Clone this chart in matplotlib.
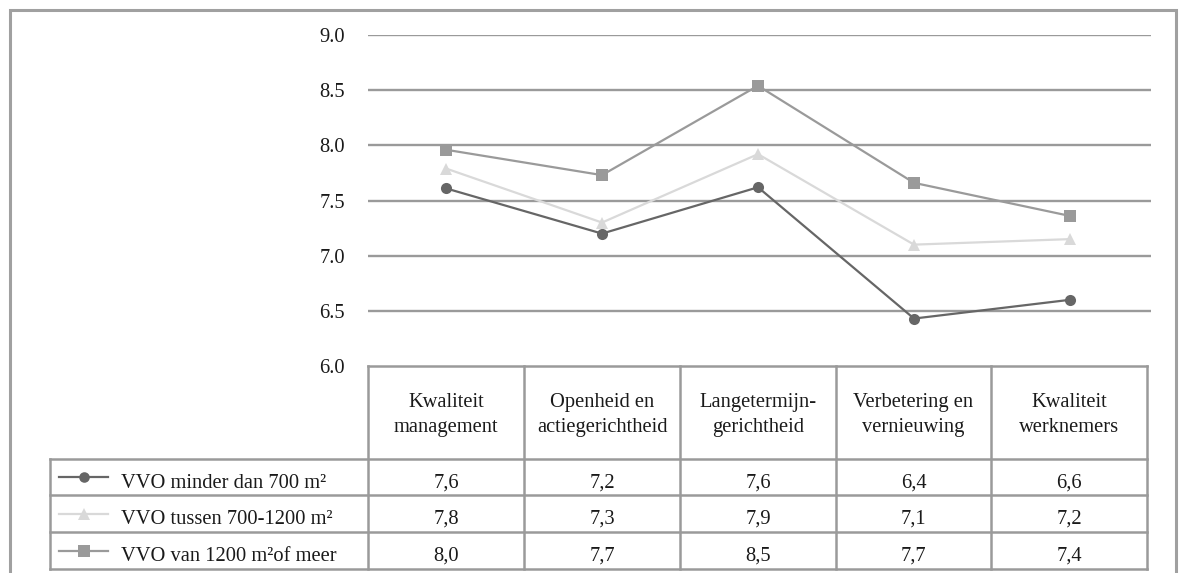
import numpy as np
import matplotlib.pyplot as plt
from matplotlib.lines import Line2D

plt.rcParams["font.family"] = ["Liberation Serif", "DejaVu Serif"]

# data
categories = ["Kwaliteit\nmanagement", "Openheid en\nactiegerichtheid", "Langetermijn-\ngerichtheid",
              "Verbetering en\nvernieuwing", "Kwaliteit\nwerknemers"]
series_names = ["VVO minder dan 700 m²", "VVO tussen 700-1200 m²", "VVO van 1200 m²of meer"]
small = [7.61, 7.20, 7.62, 6.43, 6.60]
middle = [7.79, 7.30, 7.92, 7.10, 7.15]
large = [7.96, 7.73, 8.54, 7.66, 7.36]
table_small = ["7,6", "7,2", "7,6", "6,4", "6,6"]
table_middle = ["7,8", "7,3", "7,9", "7,1", "7,2"]
table_large = ["8,0", "7,7", "8,5", "7,7", "7,4"]
yticks = [6.0, 6.5, 7.0, 7.5, 8.0, 8.5, 9.0]

W, H = 1179, 573
fig = plt.figure(figsize=(W / 100, H / 100), dpi=100)
FS = 14.8
TXT = "#1a1a1a"

# overlay in pixel coords for frame + table
pix = fig.add_axes([0, 0, 1, 1])
pix.set_xlim(0, W)
pix.set_ylim(H, 0)
pix.axis("off")

grey = "#a0a0a0"
grid_c = "#9a9a9a"
styles = [dict(color="#666666", marker="o", ms=8),
          dict(color="#d9d9d9", marker="^", ms=9),
          dict(color="#9a9a9a", marker="s", ms=8.5)]

# outer frame
pix.plot([10, 10, 1176, 1176], [H, 10, 10, H], color=grey, lw=2.2, solid_joinstyle="miter")

# chart axes
x0, x1 = 368, 1151
ytop, ybot = 35, 366
ax = fig.add_axes([x0 / W, 1 - ybot / H, (x1 - x0) / W, (ybot - ytop) / H])
ax.set_xlim(0, 5 * (x1 - x0) / 780)
ax.set_ylim(6, 9)
for s in ax.spines.values():
    s.set_visible(False)
ax.set_xticks([])
ax.set_yticks(yticks)
ax.set_yticklabels([f"{v:.1f}" for v in yticks], fontsize=FS, color=TXT)
ax.tick_params(axis="y", length=0, pad=16.5)
for v in yticks[1:]:
    ax.axhline(v, color=grid_c, lw=1.7, zorder=1)
ax.patch.set_alpha(0)

xs = np.arange(5) + 0.5
for vals, st in zip([small, middle, large], styles):
    ax.plot(xs, vals, lw=1.6, markeredgewidth=0, zorder=3, color=st["color"],
            marker=st["marker"], ms=st["ms"])

# table
cols = [368, 524, 680, 836, 991, 1147]
rows = [459, 495, 532, 569]
lw_t = 1.8
pix.plot([cols[0], cols[-1]], [366, 366], color=grid_c, lw=lw_t)
for c in cols:
    pix.plot([c, c], [366, rows[-1]], color=grid_c, lw=lw_t)
for r in rows:
    pix.plot([50, cols[-1]], [r, r], color=grid_c, lw=lw_t)
pix.plot([50, 50], [rows[0], rows[-1]], color=grid_c, lw=lw_t)

for i, cat in enumerate(categories):
    cx = (cols[i] + cols[i + 1]) / 2
    for k, part in enumerate(cat.split("\n")):
        pix.text(cx, 407 + 25 * k, part, ha="center", va="baseline", fontsize=FS, color=TXT)

for j, (name, tvals, st) in enumerate(zip(series_names, [table_small, table_middle, table_large], styles)):
    cy = (rows[j] + rows[j + 1]) / 2
    pix.add_line(Line2D([59, 83.5, 108], [cy, cy, cy], color=st["color"], lw=1.6, marker=st["marker"],
                        markevery=[1], ms=st["ms"] * 0.95, markeredgewidth=0))
    pix.text(121, cy + 10.5, name, ha="left", va="baseline", fontsize=FS, color=TXT)
    for i, t in enumerate(tvals):
        cx = (cols[i] + cols[i + 1]) / 2
        pix.text(cx, cy + 10.5, t, ha="center", va="baseline", fontsize=FS, color=TXT)

fig.savefig("out.png", dpi=100)
